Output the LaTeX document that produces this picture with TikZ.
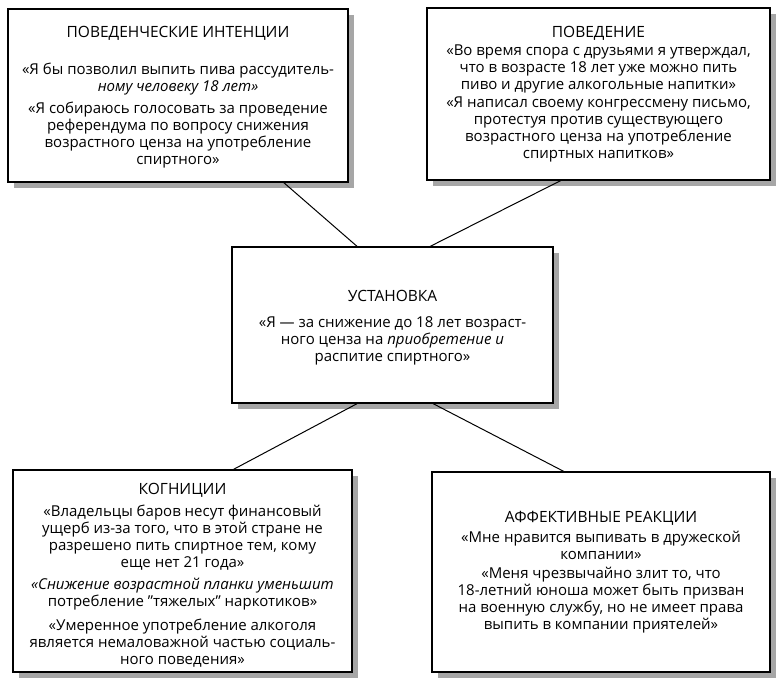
\documentclass[tikz,border=0pt]{standalone}
\usepackage{fontspec}
\setmainfont{Open Sans}
\usetikzlibrary{calc,shadows}
\begin{document}
\begin{tikzpicture}[x=1pt,y=-1pt,
  box/.style={draw=black, line width=1.3pt, fill=white, inner sep=0pt,
    drop shadow={shadow xshift=6pt, shadow yshift=-6pt, fill=black!35, opacity=1}},
  txt/.style={inner sep=0pt, align=center, font=\fontsize{15}{17}\selectfont},
  link/.style={line width=1pt}]
\useasboundingbox (0,0) rectangle (776,677);
\node[box, minimum width=340pt, minimum height=173pt] (tl) at (178,95.5) {};
\node[box, minimum width=343pt, minimum height=172pt] (tr) at (598.5,94) {};
\node[box, minimum width=321pt, minimum height=156pt] (c) at (392.5,325) {};
\node[box, minimum width=339pt, minimum height=202pt] (bl) at (182.5,571) {};
\node[box, minimum width=338pt, minimum height=200pt] (br) at (601,572) {};
\node[txt] (tlt) at ($(tl.center)+(0,2)$)
  {\fontsize{15.5}{17}\selectfont ПОВЕДЕНЧЕСКИЕ ИНТЕНЦИИ\\[20pt]
   «Я бы позволил выпить пива рассудитель-\\ \textit{ному человеку 18 лет»}\\[5pt]
   «Я собираюсь голосовать за проведение\\ референдума по вопросу снижения\\
   возрастного ценза на употребление\\ спиртного»};
\node[txt] (trt) at (tr.center)
  {\fontsize{15.5}{17}\selectfont ПОВЕДЕНИЕ\\[1pt]
   «Во время спора с друзьями я утверждал,\\ что в возрасте 18 лет уже можно пить\\
   пиво и другие алкогольные напитки»\\[1.5pt]
   «Я написал своему конгрессмену письмо,\\ протестуя против существующего\\
   возрастного ценза на употребление\\ спиртных напитков»};
\node[txt] (ct) at ($(c.center)+(0,3)$)
  {\fontsize{15.5}{17}\selectfont УСТАНОВКА\\[9pt]
   «Я — за снижение до 18 лет возраст-\\ ного ценза на \textit{приобретение и}\\
   распитие спиртного»};
\node[txt] (blt) at ($(bl.center)+(0,4)$)
  {\fontsize{15.5}{17}\selectfont КОГНИЦИИ\\[5pt]
   «Владельцы баров несут финансовый\\ ущерб из-за того, что в этой стране не\\
   разрешено пить спиртное тем, кому\\ еще нет 21 года»\\[5pt]
   \textit{«Снижение возрастной планки уменьшит}\\ потребление "тяжелых" наркотиков»\\[7pt]
   «Умеренное употребление алкоголя\\ является немаловажной частью социаль-\\
   ного поведения»};
\node[txt] (brt) at (br.center)
  {\fontsize{15.5}{17}\selectfont АФФЕКТИВНЫЕ РЕАКЦИИ\\[3pt]
   «Мне нравится выпивать в дружеской\\ компании»\\[2.5pt]
   «Меня чрезвычайно злит то, что\\ 18-летний юноша может быть призван\\
   на военную службу, но не имеет права\\ выпить в компании приятелей»};
\draw[link] ($(tl.south west)!0.81!(tl.south east)$) -- ($(c.north west)!0.39!(c.north east)$);
\draw[link] ($(tr.south west)!0.39!(tr.south east)$) -- ($(c.north west)!0.617!(c.north east)$);
\draw[link] ($(c.south west)!0.39!(c.south east)$) -- ($(bl.north west)!0.65!(bl.north east)$);
\draw[link] ($(c.south west)!0.626!(c.south east)$) -- ($(br.north west)!0.39!(br.north east)$);
\end{tikzpicture}
\end{document}
